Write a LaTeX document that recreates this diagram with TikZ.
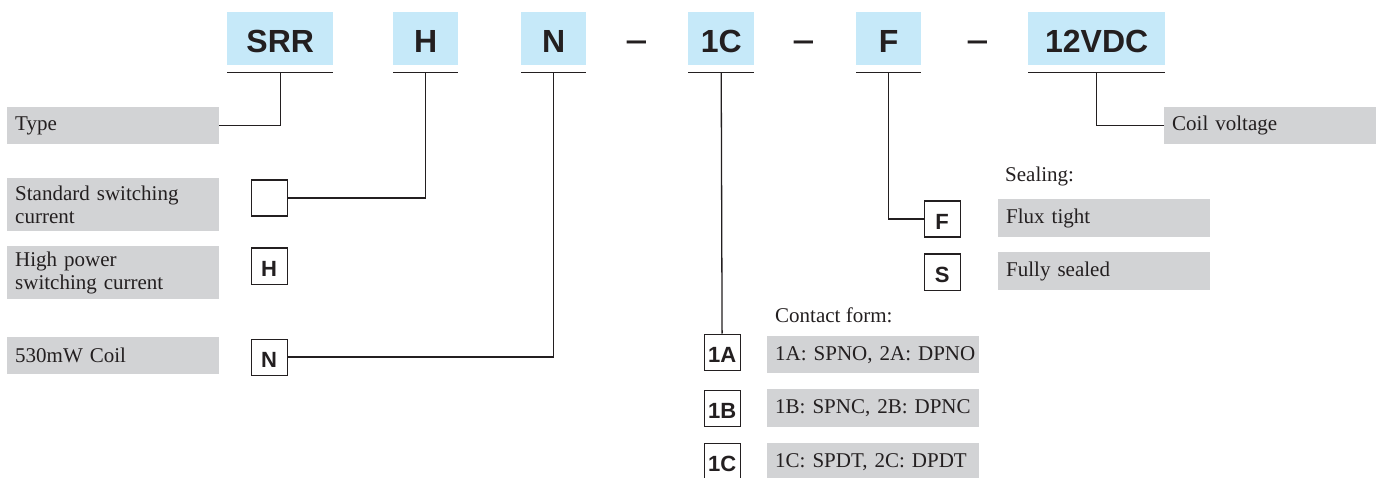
\documentclass[tikz,border=0pt]{standalone}
\usepackage{fontspec}
\setmainfont{Liberation Serif}
\newfontfamily\codesans{Liberation Sans}
\definecolor{codeblue}{HTML}{C6E9F9}
\definecolor{labelgray}{HTML}{D2D3D5}
\definecolor{ink}{HTML}{231F20}
\begin{document}
\begin{tikzpicture}[x=1pt,y=-1pt,
  codebox/.style={fill=codeblue, inner sep=0pt, anchor=north west, minimum height=53pt,
    text height=28pt, text depth=0pt, text=ink,
    font=\codesans\bfseries\fontsize{32}{32}\selectfont},
  dashlbl/.style={inner sep=0pt, anchor=base, text=ink,
    font=\codesans\bfseries\fontsize{30}{30}\selectfont},
  uline/.style={draw=ink, line width=1.5pt},
  keybox/.style={draw=ink, line width=1.2pt, fill=white, inner sep=0pt, anchor=north west,
    minimum width=36pt, minimum height=36pt, text height=21pt, text depth=0pt, text=ink,
    font=\codesans\bfseries\fontsize{22}{22}\selectfont},
  graybox/.style={fill=labelgray, inner xsep=8pt, inner ysep=0pt, anchor=north west,
    text width=196pt, align=left, minimum height=#1, text=ink,
    font=\fontsize{21}{23}\selectfont},
  heading/.style={inner sep=0pt, anchor=base west, text=ink, font=\fontsize{21}{23}\selectfont},
  conn/.style={draw=ink, line width=1.3pt},
]
\useasboundingbox (0,0) rectangle (1383,478);
\clip (0,0) rectangle (1383,478);

% top code
\node[codebox, minimum width=106pt] (srr) at (227,12) {SRR};
\node[codebox, minimum width=65pt] (h) at (393,12) {H};
\node[codebox, minimum width=65pt] (n) at (521,12) {N};
\node[dashlbl] (d1) at (636.5,50.5) {\scalebox{1.3}[1]{–}};
\node[codebox, minimum width=66pt] (c1) at (688,12) {1C};
\node[dashlbl] (d2) at (803.5,50.5) {\scalebox{1.3}[1]{–}};
\node[codebox, minimum width=65pt] (f) at (856,12) {F};
\node[dashlbl] (d3) at (977.5,50.5) {\scalebox{1.3}[1]{–}};
\node[codebox, minimum width=137pt] (v12) at (1028,12) {12VDC};

\foreach \k in {srr,h,n,c1,f,v12}
  \draw[uline] ([yshift=-7pt]\k.south west) -- ([yshift=-7pt]\k.south east);

% left labels
\node[graybox=37pt] (type) at (7,107) {Type};
\node[graybox=53pt] (std) at (7,178) {Standard switching\\current};
\node[graybox=53pt] (high) at (7,246) {High power\\switching current};
\node[graybox=37pt] (coiln) at (7,337) {530mW Coil};

\node[keybox] (blank) at (250.5,179.5) {};
\node[keybox] (hkey) at (250.5,247.5) {H};
\node[keybox] (nkey) at (250.5,338.5) {N};

% contact form
\node[heading] (contact) at (775,322) {Contact form:};
\node[keybox] (k1a) at (703.5,333.5) {1A};
\node[keybox] (k1b) at (703.5,389.5) {1B};
\node[keybox] (k1c) at (703.5,442.5) {1C};
\node[graybox=37pt] (c1a) at (767,336) {\mbox{1A: SPNO, 2A: DPNO}};
\node[graybox=38pt] (c1b) at (767,389) {\mbox{1B: SPNC, 2B: DPNC}};
\node[graybox=37pt] (c1c) at (767,443) {\mbox{1C: SPDT, 2C: DPDT}};

% sealing
\node[heading] (sealing) at (1005,182) {Sealing:};
\node[keybox] (fkey) at (923.5,200.5) {F};
\node[keybox] (skey) at (923.5,253.5) {S};
\node[graybox=38pt] (flux) at (998,199) {Flux tight};
\node[graybox=38pt] (sealed) at (998,252) {Fully sealed};

% coil voltage
\node[graybox=37pt] (coilv) at (1164,107) {Coil voltage};

% connectors
\draw[conn] ([yshift=-7pt]srr.south) |- (type.east);
\draw[conn] ([yshift=-7pt]h.south) |- (blank.east);
\draw[conn] ([yshift=-7pt]n.south) |- (nkey.east);
\draw[conn] ([yshift=-7pt]c1.south) -- (k1a.north);
\draw[conn] ([yshift=-7pt]f.south) |- (fkey.west);
\draw[conn] ([yshift=-7pt]v12.south) |- (coilv.west);
\end{tikzpicture}
\end{document}
